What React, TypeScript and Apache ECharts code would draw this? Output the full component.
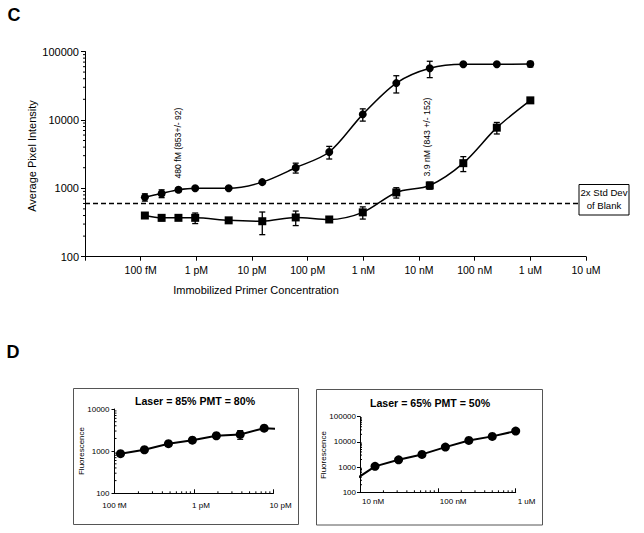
import React, { useEffect, useRef } from "react";
import * as echarts from "echarts";

// ---------- Panel C data ----------
const mainConc = [1.19e-13, 2.38e-13, 4.77e-13, 9.54e-13, 3.81e-12, 1.53e-11, 6.1e-11, 2.44e-10, 9.77e-10, 3.91e-9, 1.56e-8, 6.25e-8, 2.5e-7, 1e-6];
const circleValues = [740, 840, 950, 1000, 1000, 1230, 2000, 3390, 12050, 34500, 56750, 65000, 65000, 65500];
const circleErrors = [90, 110, 60, 50, 40, 60, 330, 710, 2450, 9750, 15250, 1500, 1500, 6000];
const squareValues = [400, 370, 370, 370, 340, 330, 375, 350, 445, 870, 1100, 2330, 7700, 19300];
const squareErrors = [25, 35, 25, 65, 20, 120, 90, 25, 90, 150, 130, 575, 1475, 1500];
const blankThreshold = 600;
const mainXTickLabels = ["", "100 fM", "1 pM", "10 pM", "100 pM", "1 nM", "10 nM", "100 nM", "1 uM", "10 uM"];

// ---------- Panel D data ----------
const leftConc = [1.19e-13, 2.38e-13, 4.77e-13, 9.54e-13, 1.91e-12, 3.81e-12, 7.63e-12, 1.53e-11];
const leftValues = [870, 1080, 1500, 1820, 2320, 2490, 3510, 3300];
const leftErrors = [0, 0, 0, 0, 0, 580, 0, 0];
const leftXTickLabels = ["100 fM", "1 pM", "10 pM"];

const rightConc = [7.8e-9, 1.56e-8, 3.13e-8, 6.25e-8, 1.25e-7, 2.5e-7, 5e-7, 1e-6];
const rightValues = [260, 1070, 1950, 3190, 6220, 11450, 16550, 26800];
const rightXTickLabels = ["10 nM", "100 nM", "1 uM"];

const FONT = "'Liberation Sans', Arial, Helvetica, sans-serif";

function minorValues(minExp: number, maxExp: number) {
  const out: number[] = [];
  for (let e = minExp; e < maxExp; e++) {
    for (let k = 2; k <= 9; k++) out.push(k * Math.pow(10, e));
  }
  return out;
}

function errorBarSeries(xi: number, yi: number, conc: number[], vals: number[], errs: number[], cap: number, lw: number) {
  return {
    type: "custom",
    xAxisIndex: xi,
    yAxisIndex: yi,
    silent: true,
    z: 3,
    encode: { x: 0, y: 1 },
    data: conc.map((c, i) => [c, vals[i], errs[i]]),
    renderItem: (params: any, api: any) => {
      const x = api.value(0);
      const v = api.value(1);
      const e = api.value(2);
      if (!e) return { type: "group", children: [] };
      const t = api.coord([x, v + e]);
      const b = api.coord([x, v - e]);
      const style = { stroke: "#000", lineWidth: lw };
      return {
        type: "group",
        children: [
          { type: "line", shape: { x1: t[0], y1: t[1], x2: b[0], y2: b[1] }, style },
          { type: "line", shape: { x1: t[0] - cap, y1: t[1], x2: t[0] + cap, y2: t[1] }, style },
          { type: "line", shape: { x1: b[0] - cap, y1: b[1], x2: b[0] + cap, y2: b[1] }, style },
        ],
      };
    },
  };
}

function tickSeries(xi: number, yi: number, points: number[][], dx: number, dy: number) {
  return {
    type: "custom",
    xAxisIndex: xi,
    yAxisIndex: yi,
    silent: true,
    z: 1,
    encode: { x: 0, y: 1 },
    data: points,
    renderItem: (params: any, api: any) => {
      const p = api.coord([api.value(0), api.value(1)]);
      return {
        type: "line",
        shape: { x1: p[0], y1: p[1], x2: p[0] + dx, y2: p[1] + dy },
        style: { stroke: "#000", lineWidth: 1 },
      };
    },
  };
}

function txt(x: number, y: number, text: string, size: number, opts: any = {}) {
  return {
    type: "text",
    x,
    y,
    rotation: opts.rotation || 0,
    z: 100,
    style: {
      text,
      fontSize: size,
      fontFamily: FONT,
      fontWeight: opts.bold ? "bold" : "normal",
      fill: "#000",
      align: opts.align || "center",
      verticalAlign: "middle",
      textAlign: opts.align || "center",
      textVerticalAlign: "middle",
    },
  };
}

const axisLineStyle = { show: true, lineStyle: { color: "#000", width: 1 } };

export default function App() {
  const ref = useRef<HTMLDivElement>(null);

  useEffect(() => {
    if (!ref.current) return;
    const chart = echarts.init(ref.current, undefined, { renderer: "svg" });
    const exp = (v: number) => Math.round(Math.log10(v));

    const option: any = {
      animation: false,
      backgroundColor: "#fff",
      grid: [
        { left: 85, top: 51.5, width: 501, height: 205.2 },
        { left: 114.5, top: 409, width: 159, height: 84.3 },
        { left: 360, top: 416.7, width: 155.7, height: 75.6 },
      ],
      xAxis: [
        {
          gridIndex: 0,
          type: "log",
          logBase: 10,
          min: 1e-14,
          max: 1e-5,
          splitNumber: 9,
          axisLine: axisLineStyle,
          axisTick: { show: true, inside: false, length: 4, lineStyle: { color: "#000" } },
          splitLine: { show: false },
          axisLabel: {
            fontSize: 10.5,
            fontFamily: FONT,
            color: "#000",
            margin: 8,
            formatter: (v: number) => mainXTickLabels[exp(v) + 14] || "",
          },
        },
        {
          gridIndex: 1,
          type: "log",
          logBase: 10,
          min: 1e-13,
          max: 1e-11,
          splitNumber: 2,
          axisLine: axisLineStyle,
          axisTick: { show: true, inside: true, length: 4, lineStyle: { color: "#000" } },
          splitLine: { show: false },
          axisLabel: {
            fontSize: 8,
            fontFamily: FONT,
            color: "#000",
            margin: 8,
            formatter: (v: number) => {
              const i = exp(v) + 13;
              const s = leftXTickLabels[i] || "";
              return i === 0 ? s : "{s|" + s + "}";
            },
            rich: { s: { fontSize: 8, fontFamily: FONT, color: "#000", padding: [0, 0, 0, 14] } },
          },
        },
        {
          gridIndex: 2,
          type: "log",
          logBase: 10,
          min: 1e-8,
          max: 1e-6,
          splitNumber: 2,
          axisLine: axisLineStyle,
          axisTick: { show: true, inside: true, length: 4, lineStyle: { color: "#000" } },
          splitLine: { show: false },
          axisLabel: {
            fontSize: 8,
            fontFamily: FONT,
            color: "#000",
            margin: 5,
            align: "left",
            padding: [0, 0, 0, 2],
            formatter: (v: number) => rightXTickLabels[exp(v) + 8] || "",
          },
        },
      ],
      yAxis: [
        {
          gridIndex: 0,
          type: "log",
          logBase: 10,
          min: 100,
          max: 100000,
          splitNumber: 3,
          axisLine: axisLineStyle,
          axisTick: { show: true, inside: false, length: 4, lineStyle: { color: "#000" } },
          splitLine: { show: false },
          axisLabel: { fontSize: 11, fontFamily: FONT, color: "#000", margin: 6, formatter: (v: number) => String(Math.round(v)) },
        },
        {
          gridIndex: 1,
          type: "log",
          logBase: 10,
          min: 100,
          max: 10000,
          splitNumber: 2,
          axisLine: axisLineStyle,
          axisTick: { show: true, inside: false, length: 3, lineStyle: { color: "#000" } },
          splitLine: { show: false },
          axisLabel: { fontSize: 8, fontFamily: FONT, color: "#000", margin: 5, formatter: (v: number) => String(Math.round(v)) },
        },
        {
          gridIndex: 2,
          type: "log",
          logBase: 10,
          min: 100,
          max: 100000,
          splitNumber: 3,
          axisLine: axisLineStyle,
          axisTick: { show: true, inside: false, length: 3, lineStyle: { color: "#000" } },
          splitLine: { show: false },
          axisLabel: { fontSize: 8, fontFamily: FONT, color: "#000", margin: 4, formatter: (v: number) => String(Math.round(v)) },
        },
      ],
      series: [
        // Panel C
        {
          type: "line",
          xAxisIndex: 0,
          yAxisIndex: 0,
          data: mainConc.map((c, i) => [c, circleValues[i]]),
          smooth: 0.3,
          symbol: "circle",
          symbolSize: 8,
          z: 4,
          lineStyle: { color: "#000", width: 1.5 },
          itemStyle: { color: "#000" },
        },
        {
          type: "line",
          xAxisIndex: 0,
          yAxisIndex: 0,
          data: mainConc.map((c, i) => [c, squareValues[i]]),
          smooth: 0.3,
          symbol: "rect",
          symbolSize: 8,
          z: 4,
          lineStyle: { color: "#000", width: 1.5 },
          itemStyle: { color: "#000" },
          markLine: {
            silent: true,
            symbol: ["none", "none"],
            label: { show: false },
            lineStyle: { color: "#000", type: [5, 3], width: 1.3 },
            data: [{ yAxis: blankThreshold }],
          },
        },
        errorBarSeries(0, 0, mainConc, circleValues, circleErrors, 3, 1.3),
        errorBarSeries(0, 0, mainConc, squareValues, squareErrors, 3, 1.3),
        tickSeries(0, 0, minorValues(2, 5).map((v) => [1e-14, v]), -2, 0),
        // Panel D left
        {
          type: "line",
          xAxisIndex: 1,
          yAxisIndex: 1,
          data: leftConc.map((c, i) => ({ value: [c, leftValues[i]], symbol: i === leftConc.length - 1 ? "none" : "circle" })),
          symbolSize: 9,
          z: 4,
          lineStyle: { color: "#000", width: 2 },
          itemStyle: { color: "#000" },
        },
        errorBarSeries(1, 1, leftConc, leftValues, leftErrors, 3, 1.2),
        tickSeries(1, 1, minorValues(-13, -11).map((v) => [v, 100]), 0, -2),
        tickSeries(1, 1, minorValues(2, 4).map((v) => [1e-13, v]), 2, 0),
        // Panel D right
        {
          type: "line",
          xAxisIndex: 2,
          yAxisIndex: 2,
          data: rightConc.map((c, i) => ({ value: [c, rightValues[i]], symbol: i === 0 ? "none" : "circle" })),
          symbolSize: 9,
          z: 4,
          lineStyle: { color: "#000", width: 2 },
          itemStyle: { color: "#000" },
        },
        tickSeries(2, 2, minorValues(-8, -6).map((v) => [v, 100]), 0, -2),
        tickSeries(2, 2, minorValues(2, 5).map((v) => [1e-8, v]), 2, 0),
      ],
      graphic: [
        txt(14, 15, "C", 18, { bold: true }),
        txt(13, 352, "D", 18, { bold: true }),
        txt(32, 156, "Average Pixel Intensity", 11, { rotation: Math.PI / 2 }),
        txt(256, 290, "Immobilized Primer Concentration", 11),
        txt(178, 143, "480 fM (853+/- 92)", 8.6, { rotation: Math.PI / 2 }),
        txt(427, 137, "3.9 nM (843 +/- 152)", 8.7, { rotation: Math.PI / 2 }),
        {
          type: "rect",
          z: 100,
          shape: { x: 579, y: 184.5, width: 50, height: 30.5 },
          style: { fill: "#fff", stroke: "#000", lineWidth: 1 },
        },
        txt(604, 192, "2x Std Dev", 9.6),
        txt(604, 205, "of Blank", 9.6),
        {
          type: "rect",
          z: 100,
          shape: { x: 73.5, y: 388.5, width: 225, height: 136 },
          style: { fill: "none", stroke: "#555", lineWidth: 1 },
        },
        {
          type: "rect",
          z: 100,
          shape: { x: 316.5, y: 389.5, width: 226, height: 135.5 },
          style: { fill: "none", stroke: "#555", lineWidth: 1 },
        },
        txt(195, 401, "Laser = 85% PMT = 80%", 10.6, { bold: true }),
        txt(430, 402.5, "Laser = 65% PMT = 50%", 10.6, { bold: true }),
        txt(81, 451, "Fluorescence", 8, { rotation: Math.PI / 2 }),
        txt(323.5, 455, "Fluorescence", 8, { rotation: Math.PI / 2 }),
      ],
    };

    chart.setOption(option);
    return () => chart.dispose();
  }, []);

  return <div ref={ref} style={{ position: "absolute", left: 0, top: 0, width: 644, height: 533 }} />;
}
